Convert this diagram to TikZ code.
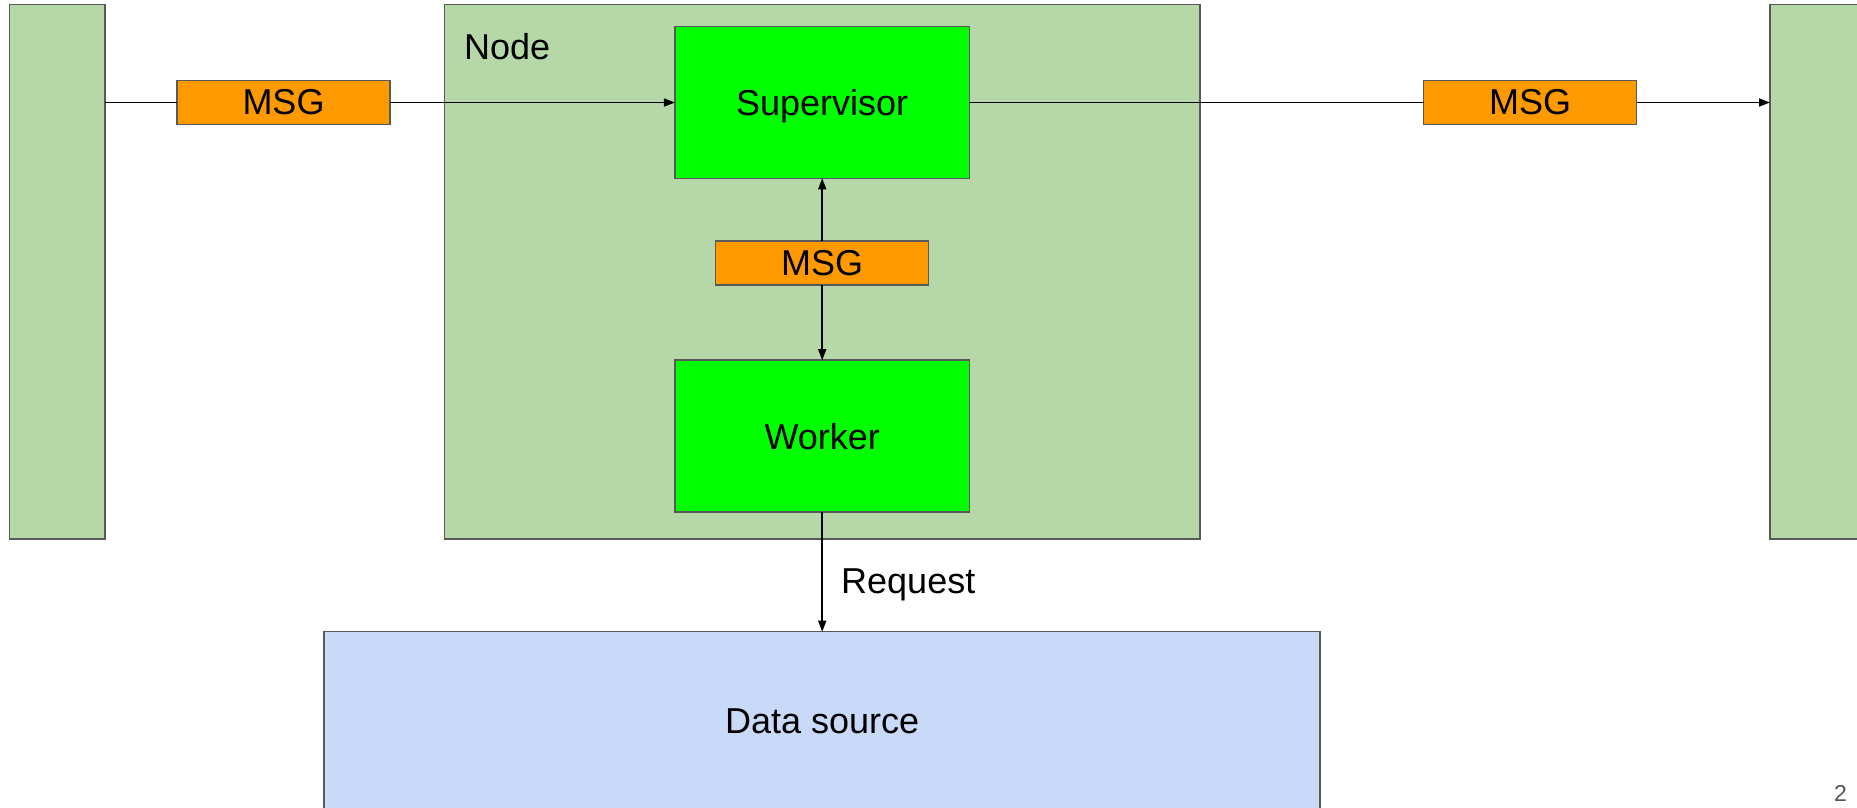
\documentclass[tikz,border=0pt]{standalone}
\usepackage{fontspec}
\setmainfont{Liberation Sans}
\usetikzlibrary{arrows.meta}
\definecolor{nodegreen}{HTML}{B6D7A8}
\definecolor{brightgreen}{HTML}{00FF00}
\definecolor{msgorange}{HTML}{FF9900}
\definecolor{datablue}{HTML}{C9DAF8}
\definecolor{bordergray}{HTML}{595959}
\definecolor{pagegray}{HTML}{555555}
\tikzset{
  box/.style={draw=bordergray, line width=1.5pt, inner sep=0pt, outer sep=0pt, rectangle},
  hostbox/.style={box, fill=nodegreen},
  procbox/.style={box, fill=brightgreen, minimum width=294.5pt, minimum height=151.6pt, text height=26pt, text depth=0pt},
  msgbox/.style={box, fill=msgorange, minimum width=213pt, minimum height=43.6pt},
  bigtext/.style={font=\fontsize{36}{43}\selectfont},
  conn/.style={line width=1.5pt, black},
  arr/.style={conn, -{Triangle[length=11pt, width=8pt]}}
}
\begin{document}
\begin{tikzpicture}[x=1pt,y=-1pt]
\useasboundingbox (0,0) rectangle (1857,807);
\clip (0,0) rectangle (1857,807);
\fill[white] (0,0) rectangle (1857,807);
% host boxes
\node[hostbox, minimum width=95.5pt, minimum height=534.7pt] (left) at (57.2,271.7) {};
\node[hostbox, minimum width=755.4pt, minimum height=534.7pt] (host) at (822.3,271.7) {};
\node[hostbox, minimum width=140pt, minimum height=534.7pt] (right) at (1840,271.7) {};
\node[bigtext, anchor=base west, inner sep=0pt] (hostlabel) at (464,59) {Node};
% processes
\node[procbox, bigtext] (sup) at (822.2,102.5) {Supervisor};
\node[procbox, bigtext] (work) at (822.2,436) {Worker};
% messages
\node[msgbox, bigtext] (msg1) at (283.5,102.5) {MSG};
\node[msgbox, bigtext] (msg2) at (822.2,263) {MSG};
\node[msgbox, bigtext] (msg3) at (1530,102.5) {MSG};
% data source
\node[box, fill=datablue, minimum width=996pt, minimum height=200pt, anchor=north] (data) at (822.2,631.7) {};
\node[bigtext, inner sep=0pt] (datalabel) at (822.2,721) {Data source};
% connectors
\draw[conn] (left.east |- msg1.west) -- (msg1.west);
\draw[arr] (msg1.east) -- (sup.west);
\draw[conn] (sup.east) -- (msg3.west);
\draw[arr] (msg3.east) -- (right.west |- msg3.east);
\draw[arr] (msg2.north) -- (sup.south);
\draw[arr] (msg2.south) -- (work.north);
\draw[arr] (work.south) -- (data.north);
\node[bigtext, anchor=base west, inner sep=0pt] (req) at (841,593) {Request};
\node[font=\fontsize{23}{27}\selectfont, text=pagegray, anchor=base east, inner sep=0pt] (page) at (1847,801.7) {2};
\end{tikzpicture}
\end{document}
